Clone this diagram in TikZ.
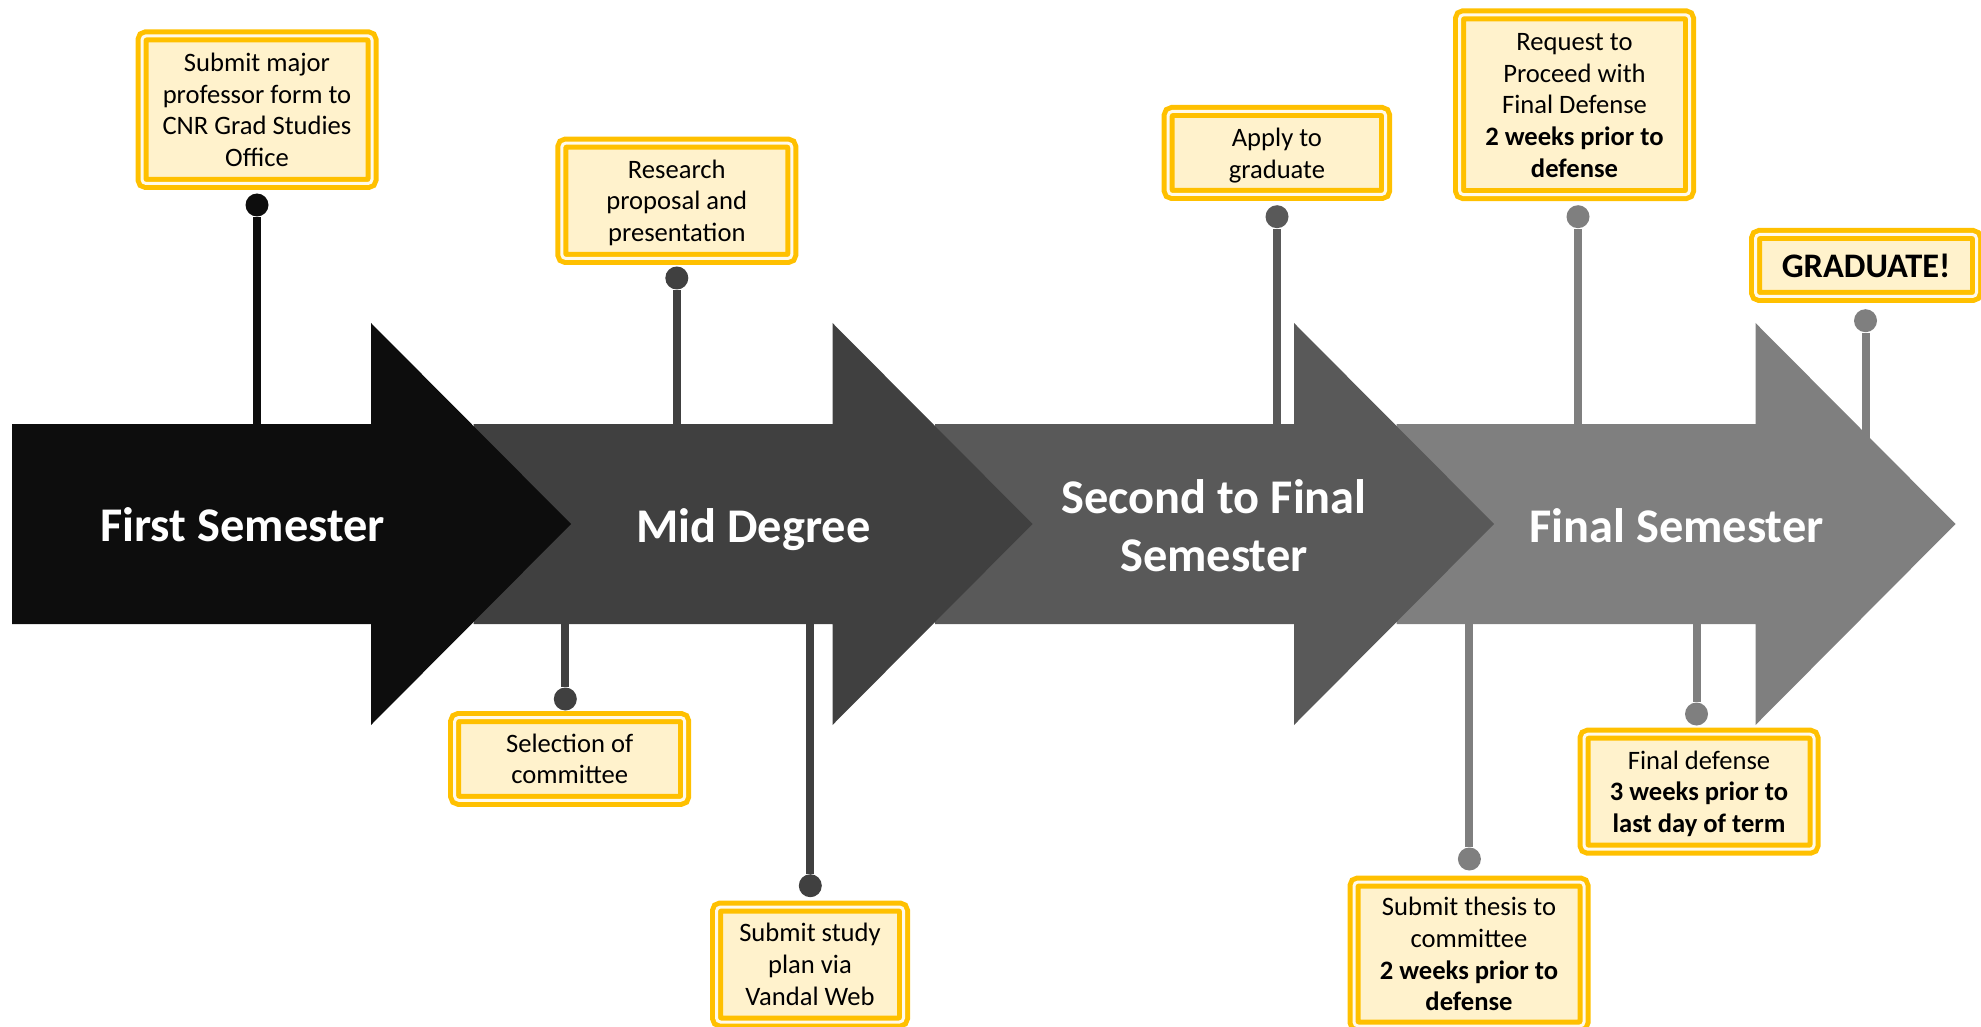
\documentclass[tikz,border=0pt]{standalone}
\usepackage{fontspec}
\setmainfont{Carlito}
\definecolor{stageone}{HTML}{0D0D0D}
\definecolor{stagetwo}{HTML}{404040}
\definecolor{stagethree}{HTML}{595959}
\definecolor{stagefour}{HTML}{7F7F7F}
\definecolor{gold}{HTML}{FFC000}
\definecolor{cream}{HTML}{FFF2CC}
\definecolor{creamgap}{HTML}{FFFAEB}
\newcommand{\bs}{\rule[-0.23em]{0pt}{1.15em}}
\tikzstyle{stage} = [text=white, font=\bfseries\fontsize{24.2}{29}\selectfont, align=center]
\tikzstyle{task} = [rectangle, rounded corners=2pt, draw=gold, double=creamgap, double distance=1.5pt, line width=2.5pt, fill=cream, minimum width=115pt, inner sep=0pt, align=center, font=\fontsize{13.3}{15.85}\selectfont]
\tikzstyle{pindot} = [circle, inner sep=0pt, minimum size=11.5pt]
\tikzstyle{pinline} = [line width=4pt]

\begin{document}
\begin{tikzpicture}[x=0.5pt, y=-0.5pt]
\useasboundingbox (0,0) rectangle (1981,1027);

\fill [stagefour] (1396.5,424) -- (1755.5,424) -- (1755.5,323) -- (1955.5,524) -- (1755.5,725) -- (1755.5,624) -- (1396.5,624) -- cycle;
\fill [stagethree] (935,424) -- (1294,424) -- (1294,323) -- (1494,524) -- (1294,725) -- (1294,624) -- (935,624) -- cycle;
\fill [stagetwo] (473.5,424) -- (832.5,424) -- (832.5,323) -- (1032.5,524) -- (832.5,725) -- (832.5,624) -- (473.5,624) -- cycle;
\fill [stageone] (12,424) -- (371,424) -- (371,323) -- (571,524) -- (371,725) -- (371,624) -- (12,624) -- cycle;

\node (first) [stage] at (242.6,525) {\bs First Semester\bs};
\node (mid) [stage] at (753.5,526) {\bs Mid Degree\bs};
\node (second) [stage] at (1214,526) {\bs Second to Final\\Semester\bs};
\node (final) [stage] at (1676.5,526) {\bs Final Semester\bs};

\node (majorprof) [task, minimum height=73.8pt] at (257,109.7) {\bs Submit major\\professor form to\\CNR Grad Studies\\Office\bs};
\node (proposal) [task, minimum height=57.7pt] at (676.8,200.8) {\bs Research\\proposal and\\presentation\bs};
\node (committee) [task, minimum height=41.4pt] at (569.7,758.9) {\bs Selection of\\committee\bs};
\node (studyplan) [task, minimum width=93.5pt, minimum height=57.5pt] at (810,964.5) {\bs Submit study\\plan via\\Vandal Web\bs};
\node (apply) [task, minimum width=108.7pt, minimum height=41.5pt] at (1276.9,153) {\bs Apply to\\graduate\bs};
\node (request) [task, minimum height=89.9pt] at (1574.5,104.7) {\bs Request to\\Proceed with\\Final Defense\\\textbf{2 weeks prior to}\\\textbf{defense}\bs};
\node (graduate) [task, minimum width=110.5pt, minimum height=31pt, font=\bfseries\fontsize{17.2}{20.6}\selectfont] at (1866,265.5) {\bs GRADUATE!\bs};
\node (thesis) [task, minimum height=72pt] at (1469,954) {\bs Submit thesis to\\committee\\\textbf{2 weeks prior to}\\\textbf{defense}\bs};
\node (defense) [task, minimum height=57.5pt] at (1699,791.7) {\bs Final defense\\\textbf{3 weeks prior to}\\\textbf{last day of term}\bs};

\node (majorprofdot) [pindot, fill=stageone] at (257,205) {};
\node (proposaldot) [pindot, fill=stagetwo] at (676.8,278) {};
\node (committeedot) [pindot, fill=stagetwo] at (565.3,699) {};
\node (studyplandot) [pindot, fill=stagetwo] at (810.3,885.7) {};
\node (applydot) [pindot, fill=stagethree] at (1277,216.7) {};
\node (requestdot) [pindot, fill=stagefour] at (1578,216.7) {};
\node (graduatedot) [pindot, fill=stagefour] at (1865.5,320.7) {};
\node (thesisdot) [pindot, fill=stagefour] at (1469.4,859) {};
\node (defensedot) [pindot, fill=stagefour] at (1696.5,714) {};

\coordinate (majorprofbase) at (257,424);
\coordinate (proposalbase) at (676.8,424);
\coordinate (committeebase) at (565.3,624);
\coordinate (studyplanbase) at (810.3,624);
\coordinate (applybase) at (1277,424);
\coordinate (requestbase) at (1578,424);
\coordinate (graduatebase) at (1865.5,440);
\coordinate (thesisbase) at (1469.4,624);
\coordinate (defensebase) at (1696.5,624);

\draw [pinline, stageone] (majorprofbase) -- (majorprofdot);
\draw [pinline, stagetwo] (proposalbase) -- (proposaldot);
\draw [pinline, stagetwo] (committeebase) -- (committeedot);
\draw [pinline, stagetwo] (studyplanbase) -- (studyplandot);
\draw [pinline, stagethree] (applybase) -- (applydot);
\draw [pinline, stagefour] (requestbase) -- (requestdot);
\draw [pinline, stagefour] (graduatebase) -- (graduatedot);
\draw [pinline, stagefour] (thesisbase) -- (thesisdot);
\draw [pinline, stagefour] (defensebase) -- (defensedot);

\end{tikzpicture}
\end{document}
